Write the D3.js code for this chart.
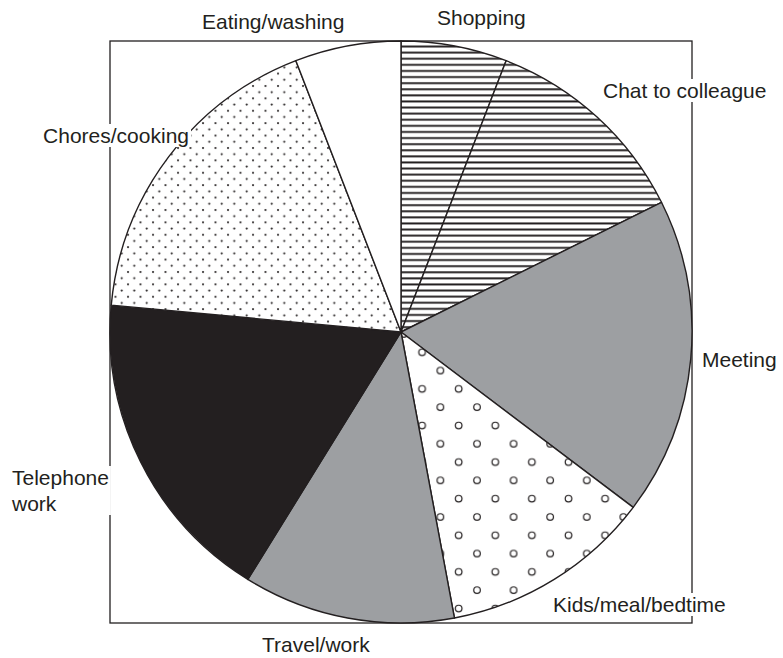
<!DOCTYPE html>
<html>
<head>
<meta charset="utf-8">
<script src="https://cdn.jsdelivr.net/npm/d3@7"></script>
<style>
  body { margin: 0; background: #fff; }
  text { font-family: "Liberation Sans", Arial, sans-serif; font-size: 21px; fill: #231f20; }
</style>
</head>
<body>
<svg id="chart" width="783" height="658"></svg>
<script>
// hours of the day, clockwise from 12 o'clock
const categories = ['Shopping', 'Chat to colleague', 'Meeting', 'Kids/meal/bedtime',
  'Travel/work', 'Telephone work', 'Chores/cooking', 'Eating/washing'];
const hours = [1, 2, 3, 2, 2, 3, 3, 1];

const ink = '#231f20';
const grey = '#9d9fa2';

const width = 783, height = 658;
const cx = 401, cy = 332, r = 291;

const svg = d3.select('#chart');
const defs = svg.append('defs');

// horizontal stripes
const stripes = defs.append('pattern').attr('id', 'stripes')
  .attr('patternUnits', 'userSpaceOnUse').attr('width', 8).attr('height', 6.1);
stripes.append('rect').attr('width', 8).attr('height', 6.1).attr('fill', '#fff');
stripes.append('rect').attr('y', 0.3).attr('width', 8).attr('height', 1.9).attr('fill', ink);

// small dots
const dots = defs.append('pattern').attr('id', 'dots')
  .attr('patternUnits', 'userSpaceOnUse').attr('width', 12.5).attr('height', 12.4);
dots.append('rect').attr('width', 12.5).attr('height', 12.4).attr('fill', '#fff');
dots.append('circle').attr('cx', 2).attr('cy', 2).attr('r', 1.05).attr('fill', ink);
dots.append('circle').attr('cx', 8.25).attr('cy', 8.2).attr('r', 1.05).attr('fill', ink);

// open circles
const rings = defs.append('pattern').attr('id', 'rings')
  .attr('patternUnits', 'userSpaceOnUse').attr('width', 36.6).attr('height', 36.6)
  .attr('x', 433).attr('y', 359);
rings.append('rect').attr('width', 36.6).attr('height', 36.6).attr('fill', '#fff');
[[9, 9], [27.3, 27.3]].forEach(p => {
  rings.append('circle').attr('cx', p[0]).attr('cy', p[1]).attr('r', 3.3)
    .attr('fill', 'none').attr('stroke', ink).attr('stroke-width', 1.2);
});

const fill = d3.scaleOrdinal()
  .domain(categories)
  .range(['url(#stripes)', 'url(#stripes)', grey, 'url(#rings)', grey, ink, 'url(#dots)', '#fff']);

// frame round the pie
svg.append('rect')
  .attr('x', cx - r).attr('y', cy - r).attr('width', 2 * r).attr('height', 2 * r)
  .attr('fill', 'none').attr('stroke', ink).attr('stroke-width', 1.3);

const pie = d3.pie().sort(null).value(d => d.v);
const arc = d3.arc().innerRadius(0).outerRadius(r);
const data = categories.map((c, i) => ({ c: c, v: hours[i] }));

svg.append('g').attr('transform', `translate(${cx},${cy})`)
  .selectAll('path').data(pie(data)).join('path')
  .attr('d', arc)
  .attr('fill', d => fill(d.data.c))
  .attr('stroke', ink).attr('stroke-width', 1.4)
  .attr('stroke-linejoin', 'round');

// label placement (x, baseline y, anchor)
const labelPos = {
  'Shopping': [437, 25, 'start'],
  'Chat to colleague': [603, 98, 'start'],
  'Meeting': [702, 367, 'start'],
  'Kids/meal/bedtime': [553, 612, 'start'],
  'Travel/work': [262, 652, 'start'],
  'Telephone work': [12, 485, 'start'],
  'Chores/cooking': [189, 143, 'end'],
  'Eating/washing': [202, 29, 'start']
};

const labels = svg.append('g');
categories.forEach(c => {
  const p = labelPos[c];
  const g = labels.append('g');
  const bg = g.append('rect').attr('fill', '#fff');
  const t = g.append('text').attr('x', p[0]).attr('y', p[1]).attr('text-anchor', p[2]);
  const lines = c === 'Telephone work' ? ['Telephone', 'work'] : [c];
  lines.forEach((l, i) => {
    t.append('tspan').attr('x', p[0]).attr('dy', i ? 26 : 0).text(l);
  });
  const b = t.node().getBBox();
  bg.attr('x', b.x - 2).attr('y', b.y).attr('width', b.width + 4).attr('height', b.height);
});
</script>
</body>
</html>
